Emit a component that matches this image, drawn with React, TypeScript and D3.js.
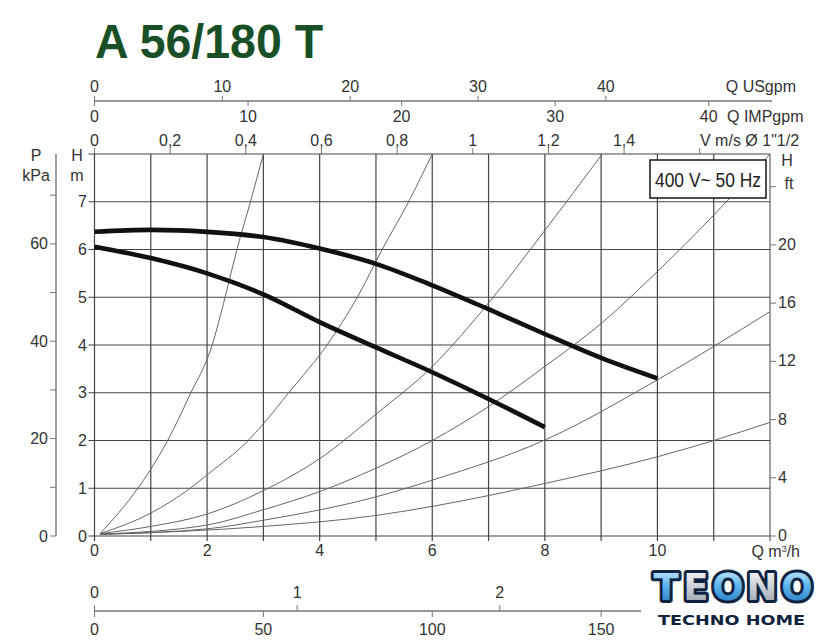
import React from "react";
import * as d3 from "d3";

// pump curves, Q m3/h -> H m
const curveMax: [number, number][] = [
  [0, 6.37], [1, 6.41], [2, 6.37], [3, 6.26], [4, 6.02], [5, 5.7],
  [6, 5.25], [7, 4.75], [8, 4.23], [9, 3.73], [10, 3.3],
];
const curveMin: [number, number][] = [
  [0, 6.06], [1, 5.82], [2, 5.5], [3, 5.06], [4, 4.48], [5, 3.95],
  [6, 3.43], [7, 2.87], [8, 2.28],
];

// system (plant) curves
const sys1: [number, number][] = [
  [0.1, 0.05], [0.77, 1], [1, 1.4], [1.3, 2], [1.68, 2.92], [2.09, 4],
  [2.32, 5], [2.53, 6], [2.77, 7], [3.0, 8],
];
const sys2: [number, number][] = [
  [0.1, 0.05], [1, 0.48], [1.7, 1], [2, 1.28], [2.73, 2], [3, 2.35],
  [3.45, 3], [4.13, 4], [4.67, 5], [5.11, 6], [5.58, 7], [6.0, 8],
];
const sys3: [number, number][] = [
  [0.1, 0.05], [1, 0.2], [2, 0.46], [3, 0.95], [4, 1.62], [5, 2.55],
  [6, 3.55], [7, 4.88], [8, 6.4], [9.02, 8],
];
const sys4: [number, number][] = [
  [0.1, 0.04], [2, 0.23], [3, 0.55], [4, 0.93], [5, 1.42], [6, 2.0],
  [7, 2.71], [8, 3.55], [9, 4.45], [10, 5.54], [11, 6.72], [12, 8.0],
];
const sys5: [number, number][] = [
  [0.1, 0.04], [2, 0.15], [3, 0.33], [5, 0.82], [6, 1.17], [8, 2.01],
  [10, 3.27], [12, 4.7],
];
const sys6: [number, number][] = [
  [0.1, 0.03], [3, 0.2], [5, 0.43], [6, 0.62], [8, 1.1], [10, 1.66],
  [11, 2.0], [12, 2.38],
];
const systemCurves = [sys1, sys2, sys3, sys4, sys5, sys6];

// axes
const qGrid = [0, 1, 2, 3, 4, 5, 6, 7, 8, 9, 10, 11, 12];
const qLabels = [0, 2, 4, 6, 8, 10];
const hGrid = [0, 1, 2, 3, 4, 5, 6, 7, 8];
const hLabels = [0, 1, 2, 3, 4, 5, 6, 7];
const usgpmTicks = [0, 10, 20, 30, 40];
const impTicks = [0, 10, 20, 30, 40];
const velTicks = [0, 0.2, 0.4, 0.6, 0.8, 1, 1.2, 1.4, 1.6];
const velLabels = [0, 0.2, 0.4, 0.6, 0.8, 1, 1.2, 1.4];
const kpaTicks = [0, 20, 40, 60];
const kpaMinor = [10, 30, 50, 70];
const ftTicks = [0, 4, 8, 12, 16, 20];
const ftMinor = [24];
const lsTicks = [0, 1, 2];
const lminTicks = [0, 50, 100, 150];

// unit conversions
const M3H_PER_USGPM = 0.2271;
const M3H_PER_IMPGPM = 0.2728;
const M3H_PER_MS = 6.72;
const M_PER_KPA = 0.10197;
const M_PER_FT = 0.3048;
const M3H_PER_LS = 3.6;
const M3H_PER_LMIN = 0.06;

const FONT = "'Liberation Sans', Arial, sans-serif";
const TXT = "#333";

export default function App() {
  const x = d3.scaleLinear().domain([0, 12]).range([94.5, 770]);
  const y = d3.scaleLinear().domain([0, 8]).range([536, 154]);

  const line = d3
    .line<[number, number]>()
    .x((d) => x(d[0]))
    .y((d) => y(d[1]))
    .curve(d3.curveMonotoneX);

  const topAxisY = 101;
  const botAxisY = 611;
  const pAxisX = 56;
  const fmt = (v: number) => String(v).replace(".", ",");

  return (
    <svg
      width={825}
      height={640}
      style={{ position: "absolute", left: 0, top: 0, background: "#fff" }}
      fontFamily={FONT}
    >
      <defs>
        <clipPath id="plot">
          <rect x={x(0)} y={y(8)} width={x(12) - x(0)} height={y(0) - y(8)} />
        </clipPath>
        <linearGradient id="blue" x1="0" y1="0" x2="0" y2="1">
          <stop offset="0" stopColor="#d8f1ff" />
          <stop offset="0.45" stopColor="#5fb6ee" />
          <stop offset="1" stopColor="#1b6fb8" />
        </linearGradient>
        <linearGradient id="silver" x1="0" y1="0" x2="0" y2="1">
          <stop offset="0" stopColor="#ffffff" />
          <stop offset="0.5" stopColor="#c9cfd6" />
          <stop offset="1" stopColor="#8e98a3" />
        </linearGradient>
      </defs>

      {/* title */}
      <text
        x={95}
        y={58}
        fontSize={48}
        fontWeight="bold"
        fill="#184f27"
        textLength={228}
        lengthAdjust="spacingAndGlyphs"
      >
        A 56/180 T
      </text>

      {/* top axis: USgpm above, IMPgpm below */}
      <line x1={x(0)} x2={772} y1={topAxisY} y2={topAxisY} stroke="#777" strokeWidth={1.4} />
      {usgpmTicks.map((v) => (
        <g key={"us" + v}>
          <line x1={x(v * M3H_PER_USGPM)} x2={x(v * M3H_PER_USGPM)} y1={topAxisY} y2={topAxisY - 5} stroke="#777" />
          <text x={x(v * M3H_PER_USGPM)} y={92} fontSize={16} fill={TXT} textAnchor="middle">{v}</text>
        </g>
      ))}
      <text x={796} y={92} fontSize={16} fill={TXT} textAnchor="end">Q USgpm</text>
      {impTicks.map((v) => (
        <g key={"imp" + v}>
          <line x1={x(v * M3H_PER_IMPGPM)} x2={x(v * M3H_PER_IMPGPM)} y1={topAxisY} y2={topAxisY + 5} stroke="#777" />
          <text x={x(v * M3H_PER_IMPGPM)} y={122} fontSize={16} fill={TXT} textAnchor="middle">{v}</text>
        </g>
      ))}
      <text x={727} y={122} fontSize={16} fill={TXT}>Q IMPgpm</text>

      {/* velocity axis on top of grid */}
      {velTicks.map((v) => (
        <line key={"v" + v} x1={x(v * M3H_PER_MS)} x2={x(v * M3H_PER_MS)} y1={y(8)} y2={y(8) - 6} stroke="#777" />
      ))}
      {velLabels.map((v) => (
        <text key={"vl" + v} x={x(v * M3H_PER_MS)} y={146} fontSize={16} fill={TXT} textAnchor="middle">{fmt(v)}</text>
      ))}
      <text x={700} y={146} fontSize={16} fill={TXT}>V m/s Ø 1"1/2</text>

      {/* grid */}
      {qGrid.map((q) => (
        <line key={"gq" + q} x1={x(q)} x2={x(q)} y1={y(8)} y2={y(0) + 5} stroke={q === 12 ? "#888" : "#444"} strokeWidth={q === 12 ? 1.6 : 1.2} />
      ))}
      {hGrid.map((h) => (
        <line key={"gh" + h} x1={x(0) - 6} x2={x(12)} y1={y(h)} y2={y(h)} stroke="#444" strokeWidth={1.2} />
      ))}

      {/* system curves */}
      <g clipPath="url(#plot)" fill="none" stroke="#666" strokeWidth={1}>
        {systemCurves.map((c, i) => (
          <path key={"s" + i} d={line(c) ?? ""} />
        ))}
      </g>

      {/* pump curves */}
      <g fill="none" stroke="#111" strokeWidth={4.6} strokeLinecap="butt">
        <path d={line(curveMax) ?? ""} />
        <path d={line(curveMin) ?? ""} />
      </g>

      {/* H m labels */}
      {hLabels.map((h) => (
        <text key={"hl" + h} x={87} y={y(h) + 5.5} fontSize={16} fill={TXT} textAnchor="end">{h}</text>
      ))}
      <text x={77} y={161} fontSize={16} fill={TXT} textAnchor="middle">H</text>
      <text x={77} y={181} fontSize={16} fill={TXT} textAnchor="middle">m</text>

      {/* P kPa axis */}
      <line x1={pAxisX} x2={pAxisX} y1={y(8)} y2={y(0)} stroke="#777" strokeWidth={1.4} />
      {kpaTicks.map((p) => (
        <g key={"p" + p}>
          <line x1={pAxisX - 6} x2={pAxisX} y1={y(p * M_PER_KPA)} y2={y(p * M_PER_KPA)} stroke="#777" />
          <text x={48} y={y(p * M_PER_KPA) + 5.5} fontSize={16} fill={TXT} textAnchor="end">{p}</text>
        </g>
      ))}
      {kpaMinor.map((p) => (
        <line key={"pm" + p} x1={pAxisX - 6} x2={pAxisX} y1={y(p * M_PER_KPA)} y2={y(p * M_PER_KPA)} stroke="#777" />
      ))}
      <text x={36} y={161} fontSize={16} fill={TXT} textAnchor="middle">P</text>
      <text x={36} y={181} fontSize={16} fill={TXT} textAnchor="middle">kPa</text>

      {/* H ft axis */}
      {ftTicks.map((f) => (
        <g key={"f" + f}>
          <line x1={x(12)} x2={x(12) + 6} y1={y(f * M_PER_FT)} y2={y(f * M_PER_FT)} stroke="#777" />
          <text x={778} y={y(f * M_PER_FT) + 5} fontSize={16} fill={TXT}>{f}</text>
        </g>
      ))}
      {ftMinor.map((f) => (
        <line key={"fm" + f} x1={x(12)} x2={x(12) + 6} y1={y(f * M_PER_FT)} y2={y(f * M_PER_FT)} stroke="#777" />
      ))}
      <text x={787} y={166} fontSize={16} fill={TXT} textAnchor="middle">H</text>
      <text x={789} y={189} fontSize={16} fill={TXT} textAnchor="middle">ft</text>

      {/* Q m3/h labels */}
      {qLabels.map((q) => (
        <text key={"ql" + q} x={x(q)} y={556} fontSize={16} fill={TXT} textAnchor="middle">{q}</text>
      ))}
      <text x={800} y={557} fontSize={16} fill={TXT} textAnchor="end">
        Q m<tspan fontSize={9} dy={-5}>3</tspan><tspan dy={5}>/h</tspan>
      </text>

      {/* bottom axis: l/s above, l/min below */}
      <line x1={x(0)} x2={641} y1={botAxisY} y2={botAxisY} stroke="#777" strokeWidth={1.4} />
      {lsTicks.map((v) => (
        <g key={"ls" + v}>
          <line x1={x(v * M3H_PER_LS)} x2={x(v * M3H_PER_LS)} y1={botAxisY} y2={botAxisY - 6} stroke="#777" />
          <text x={x(v * M3H_PER_LS)} y={598} fontSize={16} fill={TXT} textAnchor="middle">{v}</text>
        </g>
      ))}
      {lminTicks.map((v) => (
        <g key={"lm" + v}>
          <line x1={x(v * M3H_PER_LMIN)} x2={x(v * M3H_PER_LMIN)} y1={botAxisY} y2={botAxisY + 6} stroke="#777" />
          <text x={x(v * M3H_PER_LMIN)} y={635} fontSize={16} fill={TXT} textAnchor="middle">{v}</text>
        </g>
      ))}

      {/* voltage box */}
      <rect x={650} y={160} width={116} height={38} fill="#fff" stroke="#222" strokeWidth={1.6} />
      <text x={708} y={187} fontSize={20} fill="#222" textAnchor="middle" textLength={106} lengthAdjust="spacingAndGlyphs">
        400 V~ 50 Hz
      </text>

      {/* logo */}
      <g fontFamily="'DejaVu Sans', sans-serif" fontWeight="bold" fontSize={37}>
        {[
          { c: "T", x: 666, f: "url(#blue)" },
          { c: "E", x: 696, f: "url(#silver)" },
          { c: "O", x: 728, f: "url(#blue)" },
          { c: "N", x: 762, f: "url(#silver)" },
          { c: "O", x: 797, f: "url(#blue)" },
        ].map((l, i) => (
          <text key={"lg" + i} x={l.x} y={600} textAnchor="middle" fill={l.f} stroke="#0f2340" strokeWidth={6} strokeLinejoin="round" paintOrder="stroke">
            {l.c}
          </text>
        ))}
      </g>
      <text x={658} y={625} fontFamily="'DejaVu Sans', sans-serif" fontWeight="bold" fontSize={14} fill="#0f2340" textLength={147} lengthAdjust="spacingAndGlyphs">
        TECHNO HOME
      </text>
    </svg>
  );
}
